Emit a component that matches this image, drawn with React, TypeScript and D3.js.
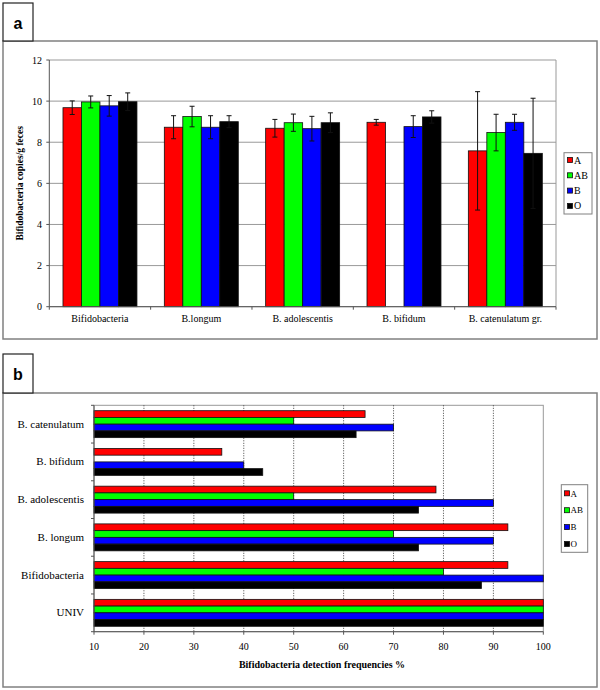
import React from "react";
import * as d3 from "d3";

const seriesNames = ["A", "AB", "B", "O"];
const seriesColors = ["#ff0000", "#00ff00", "#0000ff", "#000000"];

// Panel a
const categoriesA = ["Bifidobacteria", "B.longum", "B. adolescentis", "B. bifidum", "B. catenulatum gr."];
const valuesA = [
  [9.68, 9.96, 9.77, 9.97],
  [8.73, 9.25, 8.73, 9.0],
  [8.68, 8.95, 8.66, 8.95],
  [8.97, 0, 8.76, 9.23],
  [7.58, 8.47, 8.97, 7.46],
];
const errorsA = [
  [0.33, 0.29, 0.5, 0.43],
  [0.56, 0.5, 0.56, 0.29],
  [0.43, 0.42, 0.6, 0.48],
  [0.14, 0, 0.53, 0.3],
  [2.88, 0.89, 0.39, 2.68],
];
const ticksA = [0, 2, 4, 6, 8, 10, 12];

// Panel b
const categoriesB = ["B. catenulatum", "B. bifidum", "B. adolescentis", "B. longum", "Bifidobacteria", "UNIV"];
const valuesB = [
  [64.3, 50, 70, 62.5],
  [35.6, 0, 40, 43.8],
  [78.5, 50, 90, 75],
  [92.9, 70, 90, 75],
  [92.9, 80, 100, 87.6],
  [100, 100, 100, 100],
];
const ticksB = [10, 20, 30, 40, 50, 60, 70, 80, 90, 100];

const serif = "'Liberation Serif', 'Times New Roman', serif";
const sans = "'Liberation Sans', Arial, sans-serif";

function PanelA() {
  const left = 49.3, right = 556, top = 60, bottom = 306.7;
  const y = d3.scaleLinear().domain([0, 12]).range([bottom, top]);
  const x0 = d3.scaleBand<string>().domain(categoriesA).range([left, right]).padding(0);
  const bw = x0.bandwidth();
  const x1 = d3.scaleBand<string>().domain(seriesNames).range([bw * 0.135, bw * 0.865]).padding(0);
  return (
    <g>
      {/* frame */}
      <rect x={3} y={41} width={594} height={298} fill="#fff" stroke="#808080" strokeWidth={1.5} />
      <rect x={3} y={3} width={30} height={38} fill="#fff" stroke="#222" strokeWidth={1.2} />
      <text x={18} y={29} textAnchor="middle" fontFamily={sans} fontWeight="bold" fontSize={16}>a</text>
      {/* gridlines */}
      {ticksA.map((t) => (
        <line key={t} x1={left} x2={right} y1={y(t)} y2={y(t)} stroke="#999" strokeWidth={1} />
      ))}
      <line x1={right} x2={right} y1={top} y2={bottom} stroke="#999" strokeWidth={1} />
      {/* bars */}
      {categoriesA.map((c, ci) =>
        seriesNames.map((s, si) => {
          const v = valuesA[ci][si];
          if (!v) return null;
          const bx = (x0(c) as number) + (x1(s) as number);
          return (
            <rect key={c + s} x={bx} y={y(v)} width={x1.bandwidth()} height={y(0) - y(v)}
              fill={seriesColors[si]} stroke="#111" strokeWidth={0.8} />
          );
        })
      )}
      {/* error bars */}
      {categoriesA.map((c, ci) =>
        seriesNames.map((s, si) => {
          const v = valuesA[ci][si];
          const e = errorsA[ci][si];
          if (!v || !e) return null;
          const cx = (x0(c) as number) + (x1(s) as number) + x1.bandwidth() / 2;
          return (
            <g key={"e" + c + s} stroke="#111" strokeWidth={1}>
              <line x1={cx} x2={cx} y1={y(v + e)} y2={y(v - e)} />
              <line x1={cx - 2.5} x2={cx + 2.5} y1={y(v + e)} y2={y(v + e)} />
              <line x1={cx - 2.5} x2={cx + 2.5} y1={y(v - e)} y2={y(v - e)} />
            </g>
          );
        })
      )}
      {/* axes */}
      <line x1={left} x2={left} y1={top} y2={bottom} stroke="#555" strokeWidth={1} />
      <line x1={left} x2={right} y1={bottom} y2={bottom} stroke="#555" strokeWidth={1} />
      {ticksA.map((t) => (
        <g key={"t" + t}>
          <line x1={left - 3} x2={left} y1={y(t)} y2={y(t)} stroke="#555" />
          <text x={42} y={y(t) + 3.5} textAnchor="end" fontFamily={serif} fontSize={10}>{t}</text>
        </g>
      ))}
      {categoriesA.map((c, ci) => (
        <g key={"c" + c}>
          <line x1={(x0(c) as number) + bw} x2={(x0(c) as number) + bw} y1={bottom} y2={bottom + 3} stroke="#555" />
          <text x={(x0(c) as number) + bw / 2} y={321.5} textAnchor="middle" fontFamily={serif} fontSize={10}>{c}</text>
        </g>
      ))}
      <line x1={left} x2={left} y1={bottom} y2={bottom + 3} stroke="#555" />
      <text transform={`translate(23,${(top + bottom) / 2}) rotate(-90)`} textAnchor="middle"
        fontFamily={serif} fontWeight="bold" fontSize={9.5}>Bifidobacteria copies/g feces</text>
      {/* legend */}
      <rect x={564} y={152.7} width={28} height={61.3} fill="#fff" stroke="#808080" strokeWidth={1} />
      {seriesNames.map((s, si) => {
        const ly = 160 + si * 15.3;
        return (
          <g key={"l" + s}>
            <rect x={567.5} y={ly - 2.5} width={5} height={5} fill={seriesColors[si]} stroke="#111" strokeWidth={0.8} />
            <text x={574} y={ly + 3.5} fontFamily={serif} fontSize={10}>{s}</text>
          </g>
        );
      })}
    </g>
  );
}

function PanelB() {
  const left = 94, right = 543.3, top = 405.3, bottom = 631.7;
  const x = d3.scaleLinear().domain([10, 100]).range([left, right]);
  const y0 = d3.scaleBand<string>().domain(categoriesB).range([top, bottom]).padding(0);
  const bh = y0.bandwidth();
  const y1 = d3.scaleBand<string>().domain(seriesNames).range([bh * 0.143, bh * 0.857]).padding(0);
  return (
    <g>
      <rect x={3} y={393} width={594} height={294} fill="#fff" stroke="#808080" strokeWidth={1.5} />
      <rect x={3} y={354} width={30} height={39} fill="#fff" stroke="#222" strokeWidth={1.2} />
      <text x={18} y={380} textAnchor="middle" fontFamily={sans} fontWeight="bold" fontSize={16}>b</text>
      {/* plot border */}
      <rect x={left} y={top} width={right - left} height={bottom - top} fill="none" stroke="#999" strokeWidth={1} />
      {ticksB.slice(1, -1).map((t) => (
        <line key={"g" + t} x1={x(t)} x2={x(t)} y1={top} y2={bottom} stroke="#444" strokeWidth={1} strokeDasharray="1,1.5" />
      ))}
      {categoriesB.map((c, ci) =>
        seriesNames.map((s, si) => {
          const v = valuesB[ci][si];
          if (!v) return null;
          return (
            <rect key={c + s} x={x(10)} y={(y0(c) as number) + (y1(s) as number)} width={x(v) - x(10)}
              height={y1.bandwidth()} fill={seriesColors[si]} stroke="#111" strokeWidth={0.8} />
          );
        })
      )}
      {/* axes */}
      <line x1={left} x2={left} y1={top} y2={bottom} stroke="#555" />
      <line x1={left} x2={right} y1={bottom} y2={bottom} stroke="#555" />
      {categoriesB.map((c) => (
        <g key={"c" + c}>
          <line x1={left - 3} x2={left} y1={y0(c) as number} y2={y0(c) as number} stroke="#555" />
          <text x={84} y={(y0(c) as number) + bh / 2 + 3.5} textAnchor="end" fontFamily={serif} fontSize={11}>{c}</text>
        </g>
      ))}
      <line x1={left - 3} x2={left} y1={bottom} y2={bottom} stroke="#555" />
      {ticksB.map((t) => (
        <g key={"t" + t}>
          <line x1={x(t)} x2={x(t)} y1={bottom} y2={bottom + 3} stroke="#555" />
          <text x={x(t)} y={649.5} textAnchor="middle" fontFamily={serif} fontSize={10}>{t}</text>
        </g>
      ))}
      <text x={322} y={668} textAnchor="middle" fontFamily={serif} fontWeight="bold" fontSize={10}>
        Bifidobacteria detection frequencies %
      </text>
      {/* legend */}
      <rect x={561.3} y={484.7} width={26.4} height={67.6} fill="#fff" stroke="#808080" strokeWidth={1} />
      {seriesNames.map((s, si) => {
        const ly = 493.3 + si * 16.9;
        return (
          <g key={"l" + s}>
            <rect x={564.5} y={ly - 2.5} width={5} height={5} fill={seriesColors[si]} stroke="#111" strokeWidth={0.8} />
            <text x={570.5} y={ly + 3.2} fontFamily={serif} fontSize={9}>{s}</text>
          </g>
        );
      })}
    </g>
  );
}

export default function App() {
  return (
    <svg width={600} height={690} style={{ position: "absolute", left: 0, top: 0, background: "#fff" }}>
      <rect x={0} y={0} width={600} height={690} fill="#fff" />
      <PanelA />
      <PanelB />
    </svg>
  );
}
